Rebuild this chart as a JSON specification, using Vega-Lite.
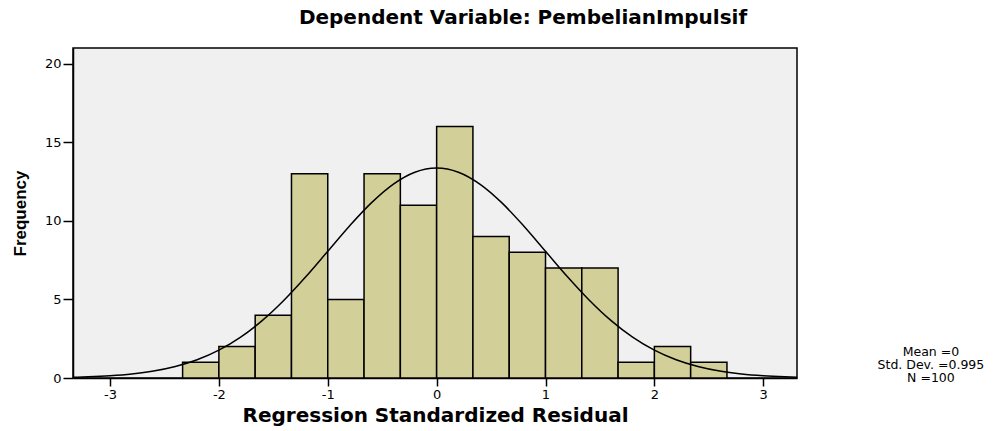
{
  "$schema": "https://vega.github.io/schema/vega-lite/v6.json",
  "autosize": "none",
  "width": 724,
  "height": 330,
  "padding": {"top": 48, "left": 73, "right": 211, "bottom": 53},
  "background": "white",
  "title": {
    "text": "Dependent Variable: PembelianImpulsif",
    "font": "DejaVu Sans",
    "fontSize": 20,
    "fontWeight": "bold",
    "color": "black",
    "anchor": "middle",
    "dx": 88,
    "baseline": "alphabetic",
    "offset": 4
  },
  "config": {
    "view": {"fill": "#F0F0F0", "stroke": "black", "strokeWidth": 1.5},
    "axis": {
      "labelFont": "DejaVu Sans",
      "labelFontSize": 13,
      "labelColor": "black",
      "domainColor": "black",
      "tickColor": "black",
      "tickWidth": 1.5,
      "domainWidth": 1.5,
      "grid": false,
      "titleColor": "black",
      "titleFontWeight": "bold"
    }
  },
  "datasets": {
    "bins": [
      {"start": -2.3333, "end": -2.0, "count": 1},
      {"start": -2.0, "end": -1.6667, "count": 2},
      {"start": -1.6667, "end": -1.3333, "count": 4},
      {"start": -1.3333, "end": -1.0, "count": 13},
      {"start": -1.0, "end": -0.6667, "count": 5},
      {"start": -0.6667, "end": -0.3333, "count": 13},
      {"start": -0.3333, "end": 0.0, "count": 11},
      {"start": 0.0, "end": 0.3333, "count": 16},
      {"start": 0.3333, "end": 0.6667, "count": 9},
      {"start": 0.6667, "end": 1.0, "count": 8},
      {"start": 1.0, "end": 1.3333, "count": 7},
      {"start": 1.3333, "end": 1.6667, "count": 7},
      {"start": 1.6667, "end": 2.0, "count": 1},
      {"start": 2.0, "end": 2.3333, "count": 2},
      {"start": 2.3333, "end": 2.6667, "count": 1}
    ],
    "curve": [
      {"x": -3.34, "y": 0.048},
      {"x": -3.2, "y": 0.076},
      {"x": -3.0, "y": 0.142},
      {"x": -2.8, "y": 0.255},
      {"x": -2.6, "y": 0.440},
      {"x": -2.4, "y": 0.729},
      {"x": -2.2, "y": 1.160},
      {"x": -2.0, "y": 1.773},
      {"x": -1.8, "y": 2.603},
      {"x": -1.6, "y": 3.669},
      {"x": -1.4, "y": 4.967},
      {"x": -1.2, "y": 6.459},
      {"x": -1.0, "y": 8.066},
      {"x": -0.8, "y": 9.674},
      {"x": -0.6, "y": 11.143},
      {"x": -0.4, "y": 12.327},
      {"x": -0.2, "y": 13.097},
      {"x": 0.0, "y": 13.365},
      {"x": 0.2, "y": 13.097},
      {"x": 0.4, "y": 12.327},
      {"x": 0.6, "y": 11.143},
      {"x": 0.8, "y": 9.674},
      {"x": 1.0, "y": 8.066},
      {"x": 1.2, "y": 6.459},
      {"x": 1.4, "y": 4.967},
      {"x": 1.6, "y": 3.669},
      {"x": 1.8, "y": 2.603},
      {"x": 2.0, "y": 1.773},
      {"x": 2.2, "y": 1.160},
      {"x": 2.4, "y": 0.729},
      {"x": 2.6, "y": 0.440},
      {"x": 2.8, "y": 0.255},
      {"x": 3.0, "y": 0.142},
      {"x": 3.2, "y": 0.076},
      {"x": 3.31, "y": 0.053}
    ],
    "stats": [
      {"label": "Mean =0\nStd. Dev. =0.995\nN =100"}
    ]
  },
  "layer": [
    {
      "data": {"name": "bins"},
      "mark": {"type": "rect", "fill": "#D3CF98", "stroke": "black", "strokeWidth": 1.5},
      "encoding": {
        "x": {
          "field": "start",
          "type": "quantitative",
          "scale": {"domain": [-3.34, 3.31], "nice": false, "zero": false},
          "axis": {
            "values": [-3, -2, -1, 0, 1, 2, 3],
            "labelExpr": "'' + datum.value",
            "tickSize": 8,
            "labelPadding": 2,
            "title": "Regression Standardized Residual",
            "titleFont": "DejaVu Sans",
            "titleFontSize": 20,
            "titlePadding": 4
          }
        },
        "x2": {"field": "end"},
        "y": {
          "field": "count",
          "type": "quantitative",
          "scale": {"domain": [0, 21], "nice": false},
          "axis": {
            "values": [0, 5, 10, 15, 20],
            "tickSize": 10,
            "labelPadding": 2,
            "title": "Frequency",
            "titleFont": "Liberation Sans",
            "titleFontSize": 17,
            "titlePadding": 15
          }
        },
        "y2": {"datum": 0}
      }
    },
    {
      "data": {"name": "curve"},
      "mark": {"type": "line", "color": "black", "strokeWidth": 1.5, "interpolate": "monotone", "clip": true},
      "encoding": {
        "x": {"field": "x", "type": "quantitative"},
        "y": {"field": "y", "type": "quantitative"}
      }
    },
    {
      "data": {"name": "stats"},
      "mark": {
        "type": "text",
        "lineBreak": "\n",
        "font": "DejaVu Sans",
        "fontSize": 12.5,
        "lineHeight": 13,
        "align": "center",
        "baseline": "middle",
        "color": "black",
        "clip": false
      },
      "encoding": {
        "x": {"datum": 4.54},
        "y": {"datum": 1.65},
        "text": {"field": "label"}
      }
    }
  ]
}
